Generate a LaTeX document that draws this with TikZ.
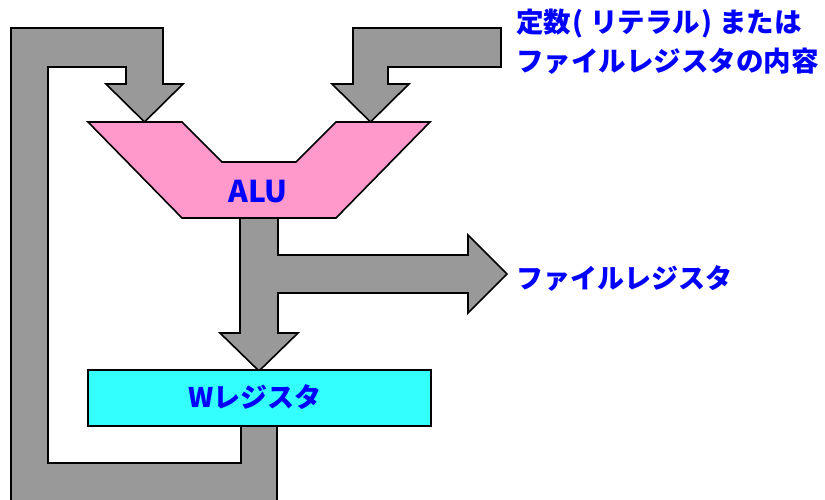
\documentclass[tikz,border=0pt]{standalone}
\usepackage{fontspec}
\setmainfont{Noto Sans CJK JP}
\definecolor{arrowgray}{RGB}{153,153,153}
\definecolor{alupink}{RGB}{255,153,204}
\definecolor{wcyan}{RGB}{51,255,255}
\definecolor{labelblue}{RGB}{0,0,255}
\newcommand{\lp}{\hspace{1pt}(\hspace{7pt}}
\newcommand{\rp}{\hspace{1pt})\hspace{7pt}}
\begin{document}
\begin{tikzpicture}[x=1pt,y=-1pt,
  flow/.style={fill=arrowgray,draw=black,line width=1.6pt,line join=miter},
  unit/.style={draw=black,line width=1.6pt,line join=miter},
  lbl/.style={text=labelblue,font=\bfseries\fontsize{27}{32}\selectfont,inner sep=0pt}]
\useasboundingbox (0,0) rectangle (825,500);
\clip (0,0) rectangle (825,500);
% feedback path W -> ALU
\draw[flow] (241,426) -- (241,463) -- (48,463) -- (48,67) -- (126,67) -- (126,84)
  -- (106,84) -- (144.5,122) -- (183,84) -- (163,84) -- (163,28) -- (11,28)
  -- (11,520) -- (277,520) -- (277,426) -- cycle;
% constant / file register input
\draw[flow] (501,28) -- (501,67) -- (388,67) -- (388,84) -- (409,84) -- (370.5,122)
  -- (332,84) -- (353,84) -- (353,28) -- cycle;
% ALU output
\draw[flow] (240,218) -- (278,218) -- (278,255) -- (468,255) -- (468,235) -- (507,274)
  -- (468,313) -- (468,293) -- (278,293) -- (278,333) -- (298,333) -- (259,371)
  -- (220,333) -- (240,333) -- cycle;
% ALU
\draw[unit,fill=alupink] (88,122) -- (182,122) -- (222,162) -- (296,162) -- (336,122)
  -- (430,122) -- (336,218) -- (182,218) -- cycle;
\node[lbl,font=\bfseries\fontsize{30}{34}\selectfont] (alu) at (258,192) {ALU};
% W register
\node[unit,fill=wcyan,minimum width=343pt,minimum height=56pt,inner sep=0pt] (wreg) at (259.5,398) {};
\node[lbl] (wtext) at (255,397) {Wレジスタ};
% labels
\node[lbl,anchor=west,font=\bfseries\fontsize{27.5}{32}\selectfont] (src1) at (516,24) {定数\lp リテラル\rp または};
\node[lbl,anchor=west,font=\bfseries\fontsize{27.5}{32}\selectfont] (src2) at (516,61) {ファイルレジスタの内容};
\node[lbl,anchor=west] (dst) at (516,278) {ファイルレジスタ};
\end{tikzpicture}
\end{document}
